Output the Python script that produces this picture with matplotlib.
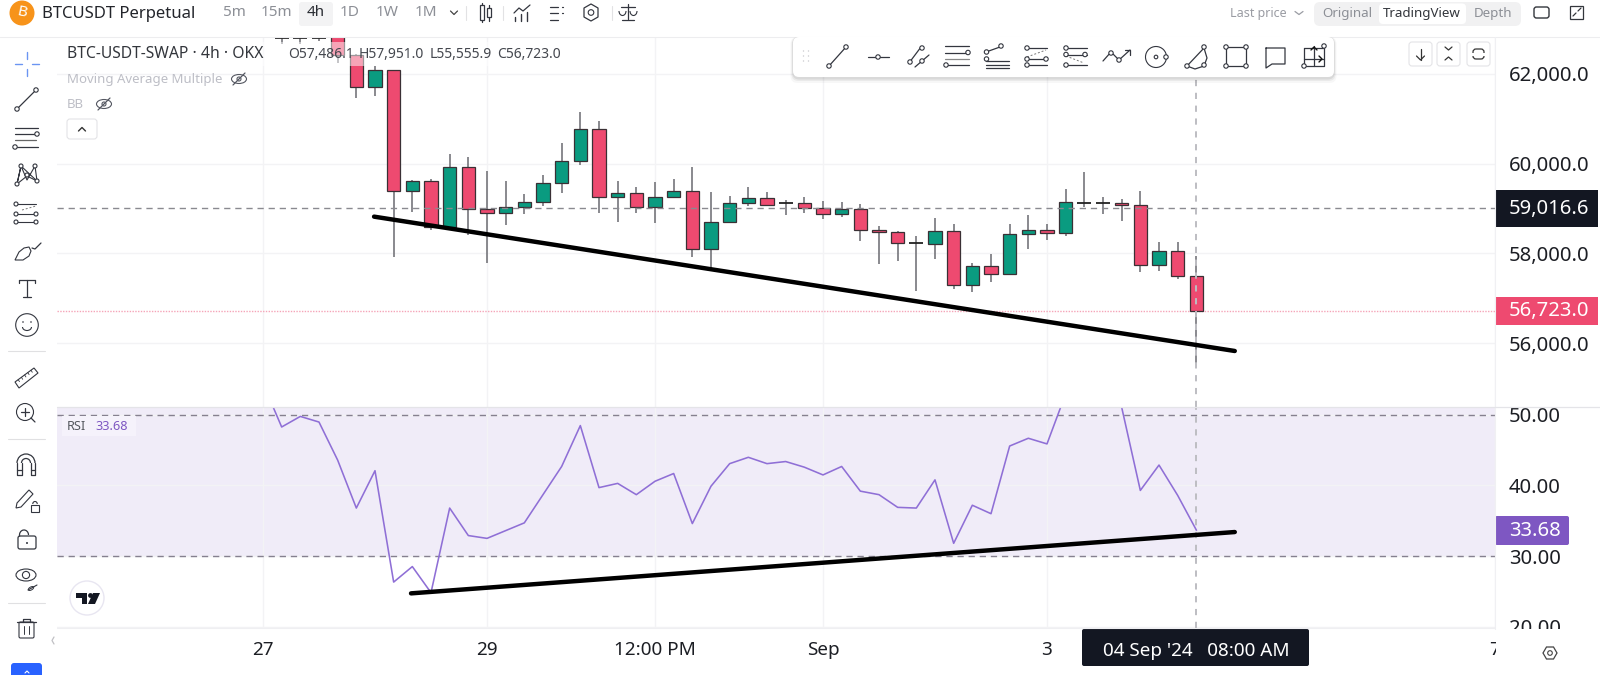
import matplotlib
matplotlib.use("Agg")
import matplotlib.pyplot as plt
from matplotlib.patches import Rectangle, Circle, FancyBboxPatch, Polygon, Ellipse, Arc

plt.rcParams['font.family'] = ['Noto Sans', 'DejaVu Sans']

# ---------- data ----------
candle_index = list(range(-11, 39))
opens = [62790, 62790, 62790, 63250, 62432, 61702, 62089, 59400, 59623, 58595, 59921, 58990, 58893, 59027, 59139, 59564,
         60055, 60763, 59251, 59340, 59027, 59251, 59400, 58089, 58692, 59117, 59229, 59128, 59128, 59017, 58868, 58979,
         58532, 58480, 58234, 58212, 58510, 57303, 57728, 57542, 58436, 58532, 58458, 59151, 59128, 59113, 59076, 57735,
         58048, 57486.1]
highs = [62830, 62830, 62810, 63300, 62440, 62186, 62089, 59638, 59661, 60219, 60145, 59840, 59609, 59325, 59750, 60458,
         61151, 60957, 59623, 59474, 59586, 59661, 59936, 59378, 59288, 59489, 59367, 59188, 59262, 59166, 59151, 59091,
         58607, 58510, 58383, 58793, 58666, 57787, 57996, 58666, 58853, 58666, 59441, 59821, 59262, 59203, 59397, 58257,
         58257, 57951.0]
lows = [62669, 62669, 62740, 62246, 61464, 61501, 57925, 58931, 58521, 58580, 58409, 57791, 58633, 58871, 59065, 59355,
        59974, 58908, 58707, 58908, 58670, 59251, 57925, 57664, 58692, 59065, 59080, 58845, 58905, 58756, 58808, 58286,
        57772, 57840, 57162, 57877, 57206, 57132, 57370, 57527, 58108, 58309, 58398, 59031, 58882, 58733, 57579, 57601,
        57430, 55555.9]
closes = [62810, 62810, 62800, 62432, 61702, 62089, 59400, 59623, 58595, 59921, 58990, 58893, 59027, 59139, 59564, 60055,
          60763, 59251, 59340, 59027, 59251, 59400, 58089, 58692, 59117, 59229, 59080, 59128, 59017, 58868, 58979, 58532,
          58480, 58234, 58240, 58510, 57303, 57728, 57542, 58436, 58532, 58458, 59151, 59128, 59118, 59076, 57735, 58048,
          57489, 56723.0]

rsi_index = list(range(-12, 39))
rsi_values = [54.5, 48.3, 49.8, 49.0, 43.6, 36.8, 42.1, 26.3, 28.5, 24.8, 36.8, 32.9, 32.5, 33.6, 34.7, 38.7, 42.7, 48.5,
              39.7, 40.3, 38.7, 40.6, 41.7, 34.6, 39.9, 43.1, 44.0, 43.1, 43.4, 42.6, 41.5, 42.7, 39.2, 38.7, 36.9, 36.8,
              40.8, 31.8, 37.2, 36.0, 45.6, 46.7, 45.9, 53.0, 58.0, 56.0, 51.1, 39.3, 42.9, 38.6, 33.68]

price_trend_x = [-6.05, 40.06]
price_trend_y = [58819, 55823]
rsi_trend_x = [-4.07, 40.06]
rsi_trend_y = [24.7, 33.4]

time_ticks = [-12, 0, 9, 18, 30, 54]
time_labels = ['27', '29', '12:00 PM', 'Sep', '3', '7']
price_ticks = [56000, 58000, 60000, 62000]
rsi_ticks = [20, 30, 40, 50]
crosshair_index = 38
crosshair_price = 59016.6
last_price = 56723.0

# ---------- colours ----------
RED, GREEN = '#EE4A70', '#0A9B80'
DARK, PURPLE = '#131722', '#7E57C2'
GRID, ICON = '#F3F3F5', '#33363F'
TXT = '#1c1e24'

W, H = 1600, 675
fig = plt.figure(figsize=(16, 6.75), dpi=100, facecolor='white')


def axes_px(x0, y0, x1, y1, **kw):
    return fig.add_axes([x0 / W, 1 - y1 / H, (x1 - x0) / W, (y1 - y0) / H], **kw)


XL = (57 - 487) / 18.667
XR = 54.0
P_TOP, P_BOT = 37, 407
R_TOP, R_BOT = 407, 628
pmax, pmin = 62000 + (74 - P_TOP) * 22.3, 62000 - (P_BOT - 74) * 22.3
rmax, rmin = 50 + (415 - R_TOP) / 7.05, 30 - (R_BOT - 556) / 7.05

ax = axes_px(57, P_TOP, 1495, P_BOT)
rx = axes_px(57, R_TOP, 1495, R_BOT)

for a in (ax, rx):
    a.set_xlim(XL, XR)
    a.set_xticks(time_ticks)
    a.grid(True, color=GRID, lw=1.0, zorder=0)
    a.set_axisbelow(True)
    a.yaxis.tick_right()
    a.tick_params(length=0, labelsize=14.6, labelcolor=TXT, pad=10)
    for s in a.spines.values():
        s.set_visible(False)

ax.set_ylim(pmin, pmax)
ax.set_yticks(price_ticks)
ax.set_yticklabels([f'{v:,.1f}' for v in price_ticks])
ax.tick_params(labelbottom=False)

rx.set_ylim(rmin, rmax)
rx.set_yticks(rsi_ticks)
rx.set_yticklabels([f'{v:.2f}' for v in rsi_ticks])
rx.set_xticklabels(time_labels)
rx.tick_params(axis='x', labelsize=13.6, pad=9.5)
for lab in rx.get_xticklabels():
    if lab.get_text() == 'Sep':
        lab.set_fontweight('bold')

# candles
for i, o, h, l, c in zip(candle_index, opens, highs, lows, closes):
    col = GREEN if c >= o else RED
    ax.vlines(i, l, h, color='#6a6a70', lw=1.1, zorder=2)
    top, bot = max(o, c), min(o, c)
    if top - bot < 25:
        ax.hlines(c, i - 0.38, i + 0.38, color='#222222', lw=1.3, zorder=3)
    else:
        ax.bar(i, top - bot, bottom=bot, width=0.72, color=col, edgecolor='#3a3035', lw=0.9, zorder=3)

ax.axhline(crosshair_price, color='#8a8a90', lw=1.0, dashes=(4.5, 3.5), zorder=4)
ax.axhline(last_price, color='#F5A5B8', lw=1.0, dashes=(1, 1), zorder=1)
ax.plot(price_trend_x, price_trend_y, color='black', lw=3.2, solid_capstyle='round', zorder=6)
ax.axvline(crosshair_index, color='#BDBDC2', lw=1.4, dashes=(3.2, 3.4), zorder=5)

# RSI
rx.axhspan(30, 70, color='#F0ECF8', lw=0, zorder=0.5)
rx.axhline(50, color='#85808f', lw=1.0, dashes=(4.5, 3.5), zorder=1.5)
rx.axhline(30, color='#85808f', lw=1.0, dashes=(4.5, 3.5), zorder=1.5)
rx.plot(rsi_index, rsi_values, color='#8F6FD6', lw=1.15, zorder=3)
rx.plot(rsi_trend_x, rsi_trend_y, color='black', lw=3.2, solid_capstyle='round', zorder=6)
rx.axvline(crosshair_index, color='#BDBDC2', lw=1.4, dashes=(3.2, 3.4), zorder=5)

# ---------- overlay (interface chrome) in pixel coordinates ----------
ov = fig.add_axes([0, 0, 1, 1], zorder=10)
ov.set_xlim(0, W)
ov.set_ylim(H, 0)
ov.axis('off')
ov.patch.set_alpha(0)


def R(x0, y0, x1, y1, fc='white', ec='none', lw=0, alpha=None, z=2):
    ov.add_patch(Rectangle((x0, y0), x1 - x0, y1 - y0, fc=fc, ec=ec, lw=lw, alpha=alpha, zorder=z))


def RR(x0, y0, x1, y1, rad=4, fc='white', ec='none', lw=0, alpha=None, z=2):
    ov.add_patch(FancyBboxPatch((x0 + rad, y0 + rad), x1 - x0 - 2 * rad, y1 - y0 - 2 * rad,
                                boxstyle=f'round,pad={rad},rounding_size={rad}', fc=fc, ec=ec, lw=lw, alpha=alpha, zorder=z))


def L(xs, ys, c=ICON, lw=0.9, z=4, **kw):
    ov.plot(xs, ys, color=c, lw=lw, zorder=z, solid_capstyle='round', **kw)


def C(x, y, r=2.2, fc='white', ec=ICON, lw=0.8, z=5):
    ov.add_patch(Circle((x, y), r, fc=fc, ec=ec, lw=lw, zorder=z))


def T(x, y, s, size=10, c=TXT, ha='left', va='center', weight='normal', z=6, **kw):
    ov.text(x, y, s, fontsize=size, color=c, ha=ha, va=va, fontweight=weight, zorder=z, **kw)


# frame
L([0, 1600], [37, 37], c='#EDEDEF', lw=0.8)
R(1496, 629, 1600, 675, z=1)
R(1496, 0, 1600, 37, z=1)
R(1496, 400, 1600, 407, z=1)
L([1495, 1495], [37, 629], c='#F0F0F3', lw=0.8)
L([57, 1600], [407, 407], c='#E4E4E8', lw=0.9)
L([57, 1495], [628, 628], c='#EFEFF2', lw=0.8)

# legend veil + text
R(60, 42, 566, 66, alpha=0.5)
T(67, 54, 'BTC-USDT-SWAP · 4h · OKX', size=11.3, c='#33363c')
T(288, 54, 'O57,486.1', size=10.0, c='#44474e')
T(359, 54, 'H57,951.0', size=10.0, c='#44474e')
T(430, 54, 'L55,555.9', size=10.0, c='#44474e')
T(497, 54, 'C56,723.0', size=10.0, c='#44474e')
T(67, 80, 'Moving Average Multiple', size=9.5, c='#BDBEC6')
T(67, 105, 'BB', size=9.5, c='#BDBEC6')


def eye_off(x, y):
    ov.add_patch(Ellipse((x, y), 15, 9, fc='none', ec='#555862', lw=0.8, zorder=5))
    C(x, y, 2, fc='none', ec='#555862')
    L([x - 6, x + 6], [y + 6, y - 6], c='#555862')


eye_off(239, 79)
eye_off(104, 104)
RR(67, 119, 97, 139, rad=3, ec='#E3E3E6', lw=0.8)
L([78.5, 82, 85.5], [131, 127.5, 131], c='#333', lw=1.0)

# RSI legend
R(62, 416, 136, 436, fc='#F5F2FB', z=2)
T(67, 426, 'RSI', size=9.2, c='#55585f')
T(95, 426, '33.68', size=9.2, c=PURPLE)

# price tags
R(1495, 190, 1598, 227, fc=DARK, z=3)
T(1509, 209, f'{crosshair_price:,.1f}', size=14.6, c='white', weight='bold')
R(1495, 297, 1598, 325, fc=RED, z=3)
T(1509, 311, f'{last_price:,.1f}', size=14.6, c='white', weight='bold')
RR(1495, 516, 1569, 545, rad=2, fc=PURPLE, z=3)
T(1509, 531, f'{rsi_values[-1]:.2f}', size=14.6, c='white', weight='bold')

# date tag
RR(1082, 629, 1309, 666, rad=2, fc=DARK, z=3)
T(1196, 651, "04 Sep '24   08:00 AM", size=13.6, c='white', ha='center')
# settings hexagon
ov.add_patch(Polygon([(1543, 653), (1546.5, 647), (1553.5, 647), (1557, 653), (1553.5, 659), (1546.5, 659)],
                     fc='none', ec='#444', lw=0.9, zorder=5))
C(1550, 653, 2.3, fc='none', ec='#444')

# TV logo
C(87, 598, 17, fc='white', ec='#E8E6F1', lw=1.0)
ov.add_patch(Polygon([(76, 593), (87, 593), (87, 604), (82, 604), (82, 598), (76, 598)], fc=DARK, zorder=6))
C(90.5, 595.5, 2.4, fc=DARK, ec='none', z=6)
ov.add_patch(Polygon([(93, 593), (100, 593), (95, 604), (88, 604)], fc=DARK, zorder=6))

# top bar
C(22, 13, 12.5, fc='#F7931A', ec='none')
T(22, 13, 'B', size=11, c='white', ha='center', weight='bold', rotation=-12)
T(42, 14, 'BTCUSDT Perpetual', size=12.0, c='#23252b')
RR(299, 2, 333, 26, rad=3, fc='#F3F3F4')
for x, s, col in [(234, '5m', '#8c8f96'), (276, '15m', '#8c8f96'), (316, '4h', '#2a2d33'),
                  (350, '1D', '#8c8f96'), (387, '1W', '#8c8f96'), (426, '1M', '#8c8f96')]:
    T(x, 13, s, size=11.0, c=col, ha='center')
L([450.5, 454, 457.5], [11, 14.5, 11], c='#444')
for x in (466, 503, 612):
    L([x, x], [6, 20], c='#E2E2E4', lw=0.8)
# candle icon
R(479.5, 5, 484, 20, fc='white', ec=ICON, lw=0.9, z=4)
L([481.8, 481.8], [3, 22], c=ICON, z=3)
R(487, 8, 491, 17, fc='white', ec=ICON, lw=0.9, z=4)
L([489, 489], [5, 21], c=ICON, z=3)
# indicator icon
L([514, 519, 523, 530], [13, 8, 11, 5], c=ICON)
for x, y0 in [(515, 17), (521, 14), (527, 12)]:
    L([x, x], [y0, 21], c=ICON, lw=1.0)
# list icon
for y in (7, 13, 20):
    L([550, 558], [y, y], c=ICON)
for y in (7, 13):
    L([562, 563], [y, y], c=ICON)
# gear
ov.add_patch(Polygon([(584, 8), (591, 4), (598, 8), (598, 17), (591, 21), (584, 17)], fc='none', ec=ICON, lw=0.9, joinstyle='round', zorder=4))
C(591, 12.5, 2.8, fc='none')
# scale
L([621, 635], [6.5, 6.5], c=ICON)
L([628, 628], [4, 19], c=ICON)
L([622, 634], [20, 20], c=ICON)
ov.add_patch(Arc((622.5, 11), 7, 9, theta1=0, theta2=180, ec=ICON, lw=0.8, zorder=4))
ov.add_patch(Arc((633.5, 11), 7, 9, theta1=0, theta2=180, ec=ICON, lw=0.8, zorder=4))

T(1230, 13, 'Last price', size=9.0, c='#9a9ca3')
L([1295, 1299, 1303], [11.5, 14.5, 11.5], c='#9a9ca3')
RR(1314, 2, 1521, 26, rad=6, fc='#F1F1F2')
RR(1379, 3.5, 1466, 24, rad=4, fc='white', z=3)
T(1347, 14, 'Original', size=9.6, c='#8c8f96', ha='center')
T(1422, 14, 'TradingView', size=9.6, c='#33363c', ha='center')
T(1493, 14, 'Depth', size=9.6, c='#8c8f96', ha='center')
RR(1534, 7, 1549, 18, rad=2.5, ec='#33363c', lw=1.0)
R(1570, 6, 1583, 19, fc='white', ec='#33363c', lw=0.9)
L([1573, 1576], [16, 13], c='#33363c')
L([1578, 1581], [11, 8], c='#33363c')

# pane buttons
for x0, x1 in [(1409, 1432), (1437, 1460), (1467, 1490)]:
    RR(x0, 42, x1, 66, rad=3, ec='#E4E4E7', lw=0.8)
L([1420.5, 1420.5], [49, 60], c='#333')
L([1416.5, 1420.5, 1424.5], [56, 60, 56], c='#333')
L([1445, 1448.5, 1452], [47, 50, 47], c='#333')
L([1445, 1448.5, 1452], [60, 57, 60], c='#333')
RR(1473, 49, 1484, 59, rad=3, ec='#333', lw=0.9)
R(1471, 52.5, 1486, 55.5, fc='white', z=3)

# floating drawing toolbar
for k, al in [(5, 0.03), (3, 0.05), (1.5, 0.07)]:
    RR(793 - k / 2, 37, 1334 + k / 2, 77 + k + 1, rad=7, fc='black', alpha=al, z=6.5)
RR(793, 37, 1334, 77, rad=6, z=7)
Z = 8
for dx in (803.5, 808.5):
    for dy in (51, 56, 61):
        C(dx, dy, 0.7, fc='#C9C9CE', ec='none', z=Z)


def TL(xs, ys, **kw):
    L(xs, ys, z=Z, lw=kw.get('lw', 0.9), c=kw.get('c', ICON))


def TC(x, y, r=2.2):
    C(x, y, r, z=Z + 1)


# 1 trend
TL([829, 846], [66, 47]); TC(829, 66); TC(846, 47)
# 2 ray
TL([868, 889], [57, 57]); TC(878, 57)
# 3 parallel
TL([909, 921], [63, 47]); TC(910, 62); TC(922, 48)
TL([915, 929], [67, 55]); TC(922, 61)
# 4 fib
for y, c in [(46, ICON), (59, '#888'), (65, ICON)]:
    TL([945, 969], [y, y], c=c)
TL([945, 968], [52.5, 52.5]); TC(968, 52.5); TC(946, 65)
# 5
TL([986, 1009], [61, 61]); TL([986, 1009], [65, 65]); TL([986, 1009], [68, 68])
TL([986, 1000], [52, 47]); TC(986.5, 52); TC(1001, 46); TC(986.5, 59)
# 6
TL([1026, 1047], [48, 48]); TL([1026, 1047], [59, 59]); TL([1026, 1047], [65, 65])
L([1027, 1046], [57, 50], c='#777', lw=0.7, ls=(0, (2, 2)), z=Z)
TC(1027, 48); TC(1027, 59); TC(1046, 59); TC(1027, 65)
# 7
TL([1065, 1087], [48, 48]); TL([1065, 1087], [54.5, 54.5]); TL([1065, 1087], [65, 65])
L([1066, 1084], [56, 63], c='#777', lw=0.7, ls=(0, (2, 2)), z=Z)
TC(1066, 48); TC(1066, 54.5); TC(1085, 54.5); TC(1066, 65)
# 8 path
TL([1103, 1111, 1119, 1130], [61, 52, 60, 50]); TL([1125, 1130, 1130], [50, 50, 55])
TC(1111, 53); TC(1119, 60)
# 9 circle
C(1156, 57, 10.5, fc='white', z=Z); TC(1156, 57, 1.8); TC(1166, 57)
# 10 curve
TL([1187, 1204], [66, 48]); TL([1204, 1207, 1204], [48, 58, 66]); TL([1187, 1195, 1204], [66, 69, 66])
TC(1187, 66); TC(1204, 47); TC(1204, 65)
# 11 rectangle
TL([1226, 1246, 1246, 1226, 1226], [47, 47, 66, 66, 47])
for p in [(1226, 47), (1246, 47), (1226, 66), (1246, 66)]:
    TC(*p)
# 12 bubble
TL([1266, 1285, 1285, 1272, 1266, 1266], [48, 48, 64, 64, 68, 48])
# 13 box
TL([1304, 1324, 1324, 1304, 1304], [48, 48, 66, 66, 48])
TL([1304, 1324], [59, 59]); TL([1314, 1314], [46, 66])
TC(1304, 66); TC(1324, 46)
L([1311, 1314, 1317], [50, 47, 50], c='#111', lw=1.0, z=Z)
L([1319, 1322, 1319], [56, 59, 62], c='#111', lw=1.0, z=Z)

# left sidebar
B = '#6B95F2'
L([15, 22], [64, 64], c=B, lw=1.0); L([32, 39], [64, 64], c=B, lw=1.0)
L([27, 27], [52, 59], c=B, lw=1.0); L([27, 27], [69, 76], c=B, lw=1.0)
# trend
L([18, 35], [108, 91]); C(17, 109); C(36, 90)
# lines
L([15, 38], [128, 128]); L([15, 35], [134, 134]); L([15, 36], [140, 140], c='#666'); L([17, 38], [147, 147])
C(37, 134); C(15, 147)
# pattern
L([17, 21, 27, 35, 37, 21, 17], [184, 166, 180, 166, 181, 166, 184], lw=0.8)
L([17, 27, 37], [184, 176, 181], lw=0.8)
for p in [(17, 184), (21, 166), (27, 175), (35, 166), (37, 181)]:
    C(*p, 2)
# fork
for y in (204, 214, 222):
    L([16, 36], [y, y], lw=0.8)
L([22, 36], [210, 206], c='#777', lw=0.7, ls=(0, (2, 2)))
for p in [(16, 204), (16, 214), (36, 214), (16, 222), (36, 222)]:
    C(*p, 2)
# brush
ov.add_patch(Polygon([(15, 260), (19, 252), (24, 248), (29, 247), (31, 251), (29, 256), (23, 260)], fc='none', ec=ICON, lw=0.8, zorder=4))
L([32, 35, 41], [248, 249, 243], lw=0.9)
# T
L([19, 35], [280, 280]); L([27, 27], [280, 297]); L([19, 19], [280, 283]); L([35, 35], [280, 283]); L([23, 31], [297, 297])
# smile
C(27, 325, 11.3, fc='none')
ov.add_patch(Arc((27, 327), 9, 7, theta1=0, theta2=180, ec=ICON, lw=0.8, zorder=4))
C(23, 322, 0.8, fc=ICON, ec='none'); C(31, 322, 0.8, fc=ICON, ec='none')
L([8, 45], [351, 351], c='#E0E0E2', lw=0.8)
# ruler
ov.add_patch(Polygon([(15, 382), (34, 368), (38, 373), (19, 388)], fc='none', ec=ICON, lw=0.8, zorder=4))
for k in range(1, 6):
    x = 15 + k * 3.2
    y = 382 - k * 2.35
    L([x, x + 1.3], [y, y + 2], lw=0.6)
# zoom
C(25, 412, 8.5, fc='none'); L([31, 35], [418, 422]); L([21, 29], [412, 412]); L([25, 25], [408, 416])
L([8, 45], [439, 439], c='#E0E0E2', lw=0.8)
# magnet
ov.add_patch(Arc((26, 463), 18, 18, theta1=180, theta2=360, ec=ICON, lw=0.9, zorder=4))
ov.add_patch(Arc((26, 463), 9, 9, theta1=180, theta2=360, ec=ICON, lw=0.9, zorder=4))
L([17, 17, 21.5, 21.5], [463, 475, 475, 463]); L([35, 35, 30.5, 30.5], [463, 475, 475, 463])
L([17, 21.5], [470, 470]); L([30.5, 35], [470, 470])
# pencil + lock
ov.add_patch(Polygon([(17, 503), (29, 490), (33, 494), (21, 507), (16, 508)], fc='none', ec=ICON, lw=0.8, zorder=4))
R(31, 505, 39, 512, fc='white', ec=ICON, lw=0.8, z=4)
ov.add_patch(Arc((35, 504), 4.5, 5, theta1=180, theta2=360, ec=ICON, lw=0.8, zorder=4))
# lock
RR(18, 536, 36, 549, rad=2, fc='none', ec=ICON, lw=0.9, z=4)
ov.add_patch(Arc((24, 535), 9, 10, theta1=160, theta2=360, ec=ICON, lw=0.9, zorder=4))
C(27, 543, 1, fc=ICON, ec='none')
# eye
ov.add_patch(Ellipse((26, 575), 20, 12, fc='none', ec=ICON, lw=0.8, zorder=4))
C(26, 575, 3.6, fc='none')
L([28, 37], [590, 585], lw=0.8)
ov.add_patch(Ellipse((31, 588.5), 6, 3, angle=-30, fc='none', ec=ICON, lw=0.7, zorder=4))
L([8, 45], [603, 603], c='#E0E0E2', lw=0.8)
# trash
L([17, 36], [622, 622]); L([23, 23, 30, 30], [622, 619, 619, 622])
RR(19, 622, 34, 638, rad=1.5, fc='none', ec=ICON, lw=0.8, z=4)
L([24, 24], [626, 634], lw=0.7); L([29, 29], [626, 634], lw=0.7)
L([54, 52, 54], [637, 640.5, 644], c='#C0C0C4')
RR(11, 663, 42, 680, rad=3, fc='#2962FF')
L([25, 27, 29], [673, 671, 673], c='white', lw=0.8)

fig.savefig('out.png', dpi=100)
